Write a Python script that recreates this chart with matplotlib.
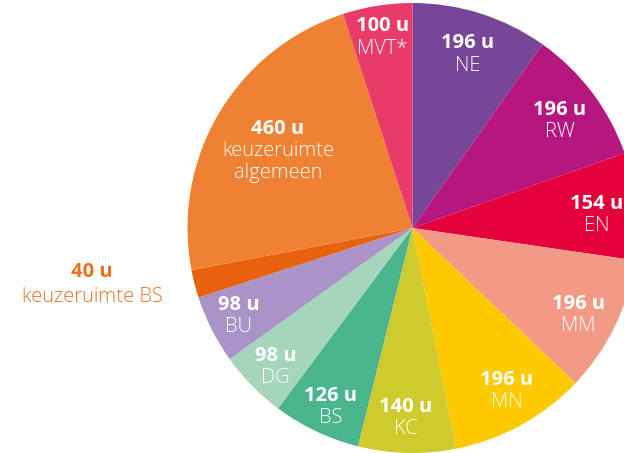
import numpy as np
import matplotlib
matplotlib.use("Agg")
import matplotlib.pyplot as plt

# ---- data ----
names = ["NE", "RW", "EN", "MM", "MN", "KC", "BS", "DG", "BU",
         "keuzeruimte BS", "keuzeruimte\nalgemeen", "MVT*"]
hours = [196, 196, 154, 196, 196, 140, 126, 98, 98, 40, 460, 100]
colors = ["#774696", "#B5177F", "#E4003A", "#F29A86", "#FDC900", "#CFCB2F",
          "#4BB58E", "#A5D5BB", "#AA93C6", "#E8610E", "#EE8133", "#E83B6A"]

# ---- layout (pixels, figure coords) ----
W, H = 624, 453
cx, cy, R = 412.5, 453 - 228, 225
# label placement per slice: (distance from centre in px, angle from top clockwise in deg)
label_pos = [(182, 17.7), (182, 54), (185, 86), (187, 117.7), (188, 150),
             (190, 182), (197, 204.5), (195, 224.5), (195, 243.2),
             None, (155, 299.8), (193, 351)]

plt.rcParams['font.family'] = ['Open Sans', 'DejaVu Sans']
fig = plt.figure(figsize=(W / 100, H / 100), dpi=100)
ax = fig.add_axes([0, 0, 1, 1])
ax.pie(hours, colors=colors, startangle=90, counterclock=False,
       center=(cx, cy), radius=R, wedgeprops=dict(linewidth=0, antialiased=True),
       frame=True)
ax.set_xlim(0, W)
ax.set_ylim(0, H)
ax.set_aspect('equal')
ax.axis('off')

fs = 14.5
line = 11.2
for name, h, pos in zip(names, hours, label_pos):
    if pos is None:
        continue
    d, a = pos
    x = cx + d * np.sin(np.radians(a))
    y = cy + d * np.cos(np.radians(a))
    nlines = name.count("\n") + 1
    top = y + line * nlines
    ax.text(x, top, f"{h} u", ha='center', va='center', color='white',
            fontsize=fs, fontweight='bold')
    for i, part in enumerate(name.split("\n")):
        ax.text(x, top - 2 * line * (i + 1), part, ha='center', va='center',
                color='white', fontsize=fs, fontweight='light')

# outside label for keuzeruimte BS
i = names.index("keuzeruimte BS")
ax.text(92, H - 272, f"{hours[i]} u", ha='center', va='center', color='#E8731E',
        fontsize=fs, fontweight='bold')
ax.text(92, H - 297, names[i], ha='center', va='center', color='#E8731E',
        fontsize=fs, fontweight='light')

fig.savefig("out.png", dpi=100)
